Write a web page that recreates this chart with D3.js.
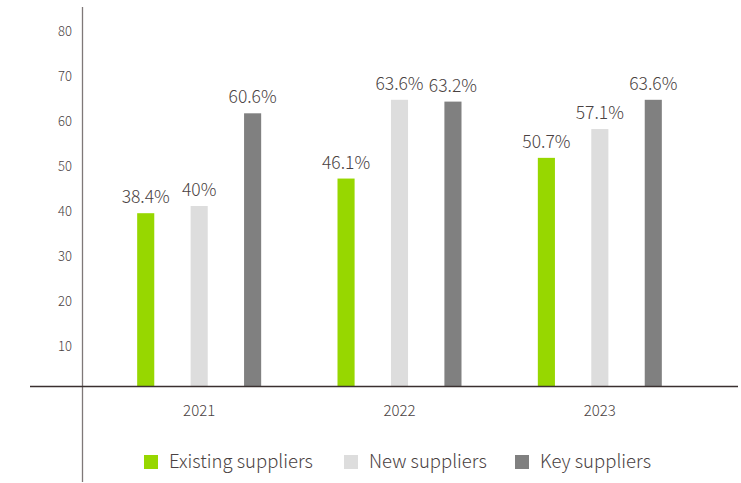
<!DOCTYPE html>
<html><head><meta charset="utf-8">
<script src="https://cdn.jsdelivr.net/npm/d3@7"></script>
<style>
body{margin:0;background:#fff;}
text{font-family:"Noto Sans CJK KR","Noto Sans",sans-serif;font-weight:300;}
</style></head>
<body><svg id="c" width="741" height="483"></svg>
<script>
const years = ["2021","2022","2023"];
const seriesNames = ["Existing suppliers","New suppliers","Key suppliers"];
const existing = [38.4, 46.1, 50.7];
const newSup = [40, 63.6, 57.1];
const keySup = [60.6, 63.2, 63.6];
const valueLabels = [["38.4%","46.1%","50.7%"],["40%","63.6%","57.1%"],["60.6%","63.2%","63.6%"]];
const yTicks = [10,20,30,40,50,60,70,80];
const colors = ["#97d700","#dddddd","#808080"];

const series = [existing, newSup, keySup];
const svg = d3.select("#c");
const x = d3.scaleBand().domain(years).range([99, 700]).padding(0);
const sub = d3.scaleBand().domain([0,1,2]).range([-62, 62]).paddingInner(0.68);
const y = d3.scaleLinear().domain([0, 80]).range([386, 26]);

// y tick labels
svg.append("g").selectAll("text").data(yTicks).join("text")
  .attr("x", 72).attr("y", d => y(d) + 5).attr("dy", "0.35em")
  .attr("text-anchor", "end").attr("font-size", 13).attr("fill", "#4a4242")
  .text(d => d);

// bars
series.forEach((vals, si) => {
  const g = svg.append("g");
  g.selectAll("rect").data(vals).join("rect")
    .attr("x", (d, i) => x(years[i]) + x.bandwidth()/2 + sub(si))
    .attr("width", sub.bandwidth())
    .attr("y", d => y(d))
    .attr("height", d => y(0) - y(d))
    .attr("fill", colors[si]);
  g.selectAll("text").data(vals).join("text")
    .attr("x", (d, i) => x(years[i]) + x.bandwidth()/2 + sub(si) + sub.bandwidth()/2)
    .attr("y", d => y(d) - 10)
    .attr("text-anchor", "middle").attr("font-size", 17.5).attr("fill", "#4a4242")
    .text((d, i) => valueLabels[si][i]);
});

// axes lines
svg.append("line").attr("x1", 82.5).attr("x2", 82.5).attr("y1", 7).attr("y2", 482)
  .attr("stroke", "#7f7878").attr("stroke-width", 1.3);
svg.append("line").attr("x1", 30).attr("x2", 738).attr("y1", y(0)+0.5).attr("y2", y(0)+0.5)
  .attr("stroke", "#3a3030").attr("stroke-width", 1.3);

// x labels
svg.append("g").selectAll("text").data(years).join("text")
  .attr("x", d => x(d) + x.bandwidth()/2).attr("y", 411).attr("dy", "0.35em")
  .attr("text-anchor", "middle").attr("font-size", 15).attr("fill", "#4a4242")
  .text(d => d);

// legend
const legX = [144, 344, 515];
const lg = svg.append("g");
seriesNames.forEach((n, i) => {
  lg.append("rect").attr("x", legX[i]).attr("y", 455).attr("width", 14).attr("height", 14).attr("fill", colors[i]);
  lg.append("text").attr("x", legX[i] + 25).attr("y", 462).attr("dy", "0.35em")
    .attr("font-size", 18.5).attr("fill", "#4a4242").text(n);
});
</script></body></html>
